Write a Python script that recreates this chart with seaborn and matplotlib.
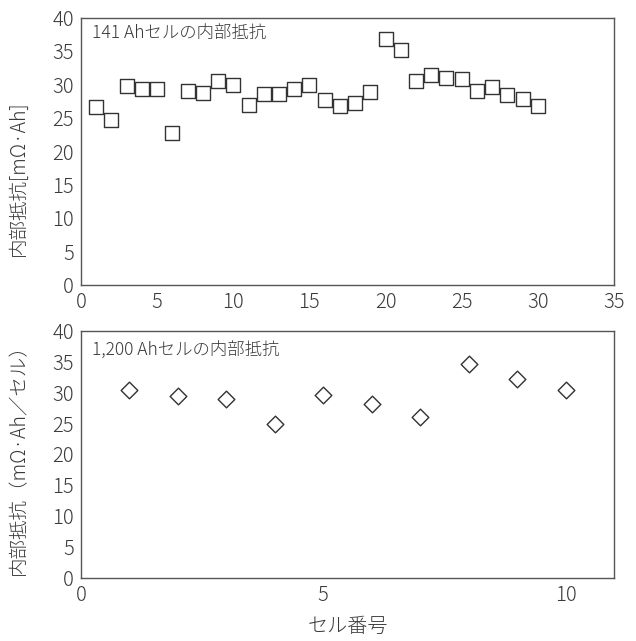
import matplotlib
matplotlib.use("Agg")
import matplotlib.pyplot as plt
import seaborn as sns
import pandas as pd

# ---- data ----
cells_141 = list(range(1, 31))
res_141 = [26.6, 24.7, 29.8, 29.3, 29.3, 22.8, 29.0, 28.8, 30.5, 30.0,
           26.9, 28.6, 28.6, 29.4, 29.9, 27.7, 26.75, 27.2, 28.9, 36.9,
           35.2, 30.5, 31.5, 31.0, 30.8, 29.1, 29.7, 28.4, 27.9, 26.75]
cells_1200 = list(range(1, 11))
res_1200 = [30.5, 29.5, 29.0, 25.0, 29.6, 28.1, 26.1, 34.6, 32.3, 30.5]

title_top = "141 Ahセルの内部抵抗"
title_bot = "1,200 Ahセルの内部抵抗"
ylabel_top = "内部抵抗[mΩ·Ah]"
ylabel_bot = "内部抵抗（mΩ·Ah／セル）"
xlabel_bot = "セル番号"

sns.set_theme(style="white")
plt.rcParams['font.family'] = ['Noto Sans CJK JP', 'DejaVu Sans']
plt.rcParams['font.weight'] = 'light'
plt.rcParams['axes.labelweight'] = 'light'
TXT = '#3a3a3a'
SP = '#555555'
plt.rcParams['text.color'] = TXT
plt.rcParams['xtick.color'] = SP
plt.rcParams['ytick.color'] = SP
plt.rcParams['xtick.labelcolor'] = TXT
plt.rcParams['ytick.labelcolor'] = TXT

fig = plt.figure(figsize=(6.36, 6.41), dpi=100)
ax1 = fig.add_axes([81/636, 1-285/641, 533/636, 267/641])
ax2 = fig.add_axes([81/636, 1-578/641, 533/636, 247/641])

df1 = pd.DataFrame({"cell": cells_141, "r": res_141})
df2 = pd.DataFrame({"cell": cells_1200, "r": res_1200})

sns.scatterplot(data=df1, x="cell", y="r", ax=ax1, marker='s', s=105,
                color='white', edgecolor='#333333', linewidth=1.0, legend=False, zorder=3)
sns.scatterplot(data=df2, x="cell", y="r", ax=ax2, marker='D', s=72,
                color='white', edgecolor='#333333', linewidth=1.0, legend=False, zorder=3)

for ax in (ax1, ax2):
    ax.set_ylim(0, 40)
    ax.set_yticks(range(0, 41, 5))
    ax.tick_params(direction='in', length=5, width=1.0, labelsize=14.5, pad=5)
    for s in ax.spines.values():
        s.set_color(SP)
        s.set_linewidth(1.0)
    ax.set_xlabel("")

ax1.set_xlim(0, 35)
ax1.set_xticks(range(0, 36, 5))
ax2.set_xlim(0, 11)
ax2.set_xticks([0, 5, 10])

ax1.text(0.02, 0.944, title_top, transform=ax1.transAxes, fontsize=12.5,
         va='center', ha='left', color=TXT, fontweight='light')
ax2.text(0.02, 0.923, title_bot, transform=ax2.transAxes, fontsize=12.5,
         va='center', ha='left', color=TXT, fontweight='light')

ax1.set_ylabel(ylabel_top, fontsize=14, color=TXT, fontweight='light')
ax1.yaxis.set_label_coords(-0.097, 0.40)
ax2.set_ylabel(ylabel_bot, fontsize=14, color=TXT, fontweight='light')
ax2.yaxis.set_label_coords(-0.097, 0.5)
ax2.set_xlabel(xlabel_bot, fontsize=14.5, color=TXT, fontweight='light')
ax2.xaxis.set_label_coords(0.5, -0.155)

fig.savefig("out.png", dpi=100)
